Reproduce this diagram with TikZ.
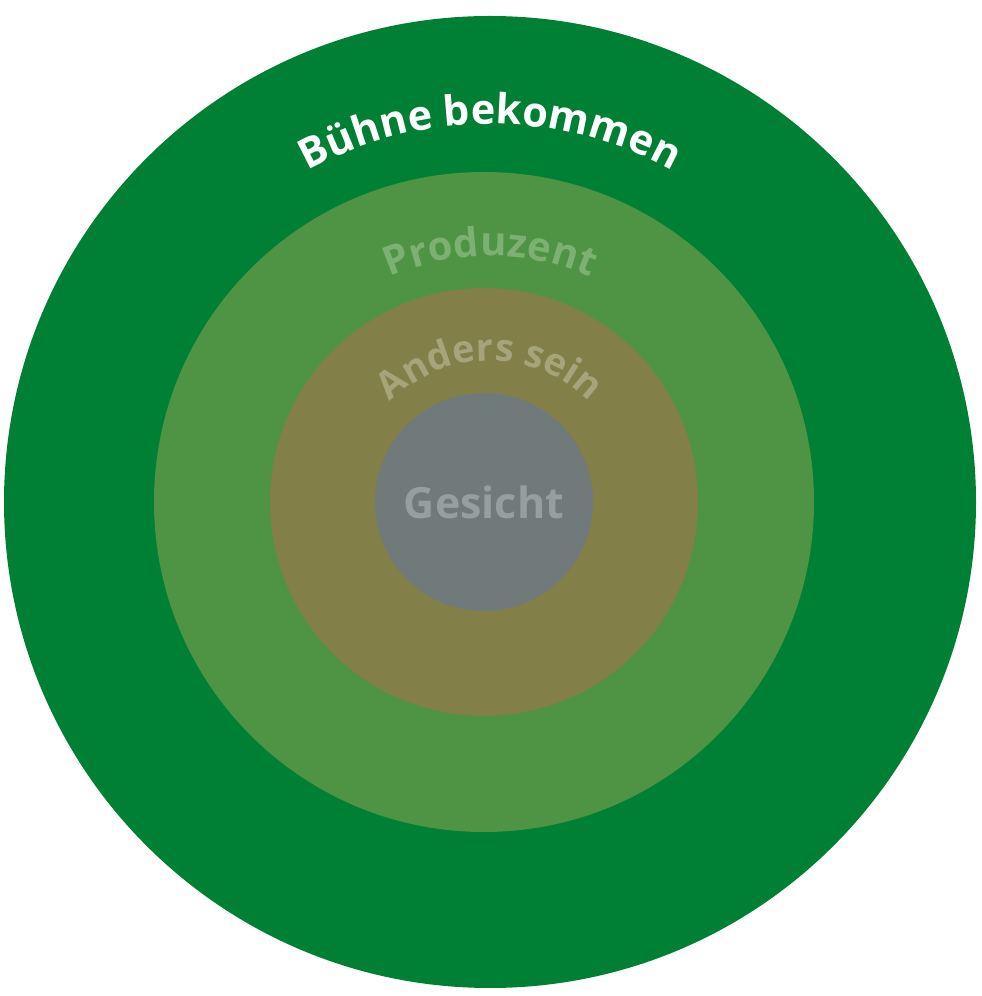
\documentclass[tikz,border=0pt]{standalone}
\usepackage{fontspec}
\setmainfont{Open Sans}
\usetikzlibrary{decorations.text}
\definecolor{cOuter}{HTML}{008035}
\definecolor{cSecond}{HTML}{4E9444}
\definecolor{cThird}{HTML}{837F48}
\definecolor{cInner}{HTML}{717A7A}
\definecolor{tSecond}{HTML}{7DB173}
\definecolor{tThird}{HTML}{A5A47A}
\definecolor{tInner}{HTML}{969E9F}
\begin{document}
\begin{tikzpicture}[x=1pt,y=1pt,
  ring/.style={draw=none},
  arclabel/.style={decorate,decoration={text along path,text align=center,text format delimiters={[}{]},text={#1}}}]
\useasboundingbox (0,0) rectangle (982,996);
\coordinate (c) at (490,494);
\fill[cOuter] (c) circle[radius=486];
\fill[cSecond] (484,494) circle[radius=330];
\fill[cThird] (484,494) circle[radius=214];
\fill[cInner] (484,494) circle[radius=109];
\node[text=tInner,font=\bfseries\fontsize{43}{43}\selectfont] (g) at (484,494) {Gesicht};
\path[arclabel={[\color{white}\bfseries\fontsize{41.5}{41.5}\selectfont]Bühne bekommen}]
  (c) ++(180:378) arc[start angle=180,end angle=0,radius=378];
\path[arclabel={[\color{tSecond}\bfseries\fontsize{40}{40}\selectfont]Produzent}]
  (c) ++(180:246) arc[start angle=180,end angle=0,radius=246];
\path[arclabel={[\color{tThird}\bfseries\fontsize{38}{38}\selectfont]Anders sein}]
  (c) ++(180:141) arc[start angle=180,end angle=0,radius=141];
\end{tikzpicture}
\end{document}
